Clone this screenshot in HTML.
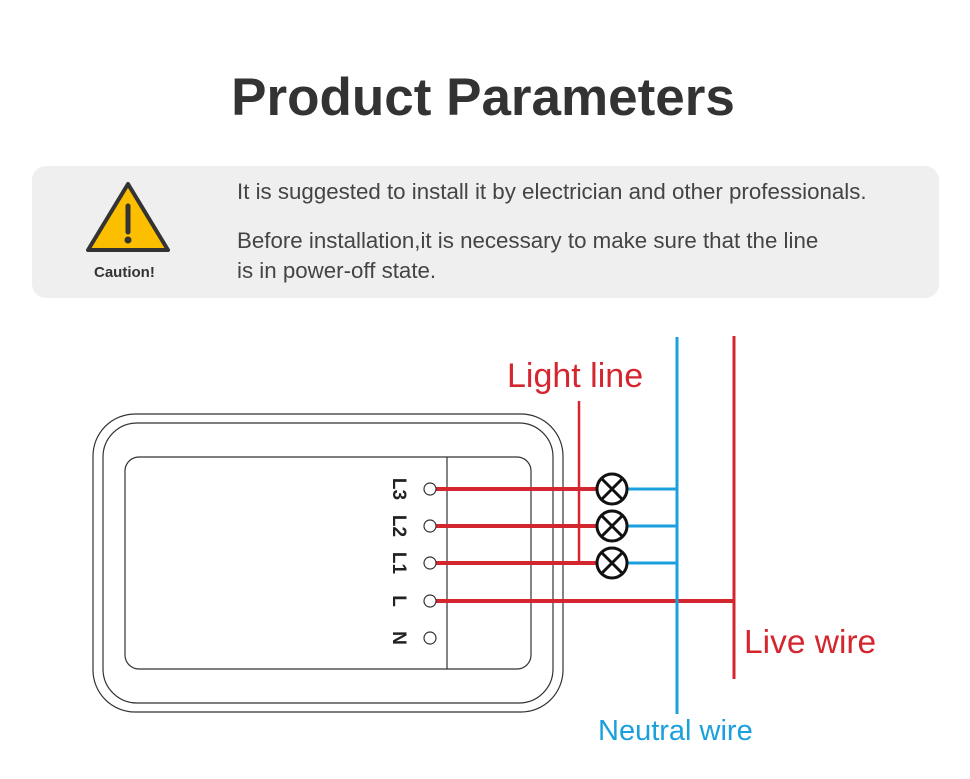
<!DOCTYPE html>
<html><head><meta charset="utf-8"><style>
body{margin:0;background:#fff;width:970px;height:779px;overflow:hidden;position:relative;font-family:"Liberation Sans",sans-serif}
.t{position:absolute;white-space:nowrap}
</style></head><body>
<div class="t" style="left:0;width:966px;text-align:center;top:67px;font-size:53px;font-weight:bold;color:#333">Product Parameters</div>
<div style="position:absolute;left:32px;top:166px;width:907px;height:132px;background:#efefef;border-radius:14px"></div>
<svg style="position:absolute;left:0;top:0" width="970" height="779">
<path d="M128,184 L168,250 L88,250 Z" fill="#fbbf00" stroke="#333" stroke-width="4" stroke-linejoin="round"/>
<line x1="128" y1="206" x2="128" y2="232" stroke="#333" stroke-width="5" stroke-linecap="round"/>
<circle cx="128" cy="240" r="3.5" fill="#333"/>
<g fill="none" stroke="#333" stroke-width="1.2">
<rect x="93" y="414" width="470" height="298" rx="42"/>
<rect x="103" y="423" width="450" height="280" rx="34"/>
<rect x="125" y="457" width="406" height="212" rx="14"/>
<line x1="447" y1="457" x2="447" y2="669"/>
</g>
<g stroke="#d4262e" stroke-width="4">
<line x1="430" y1="489" x2="598" y2="489"/>
<line x1="430" y1="526" x2="598" y2="526"/>
<line x1="430" y1="563" x2="598" y2="563"/>
<line x1="430" y1="601" x2="735" y2="601"/>
</g>
<line x1="579" y1="401" x2="579" y2="564" stroke="#d4262e" stroke-width="2.5"/>
<line x1="734" y1="336" x2="734" y2="679" stroke="#d4262e" stroke-width="3"/>
<g stroke="#1aa0dc" stroke-width="3">
<line x1="677" y1="337" x2="677" y2="714"/>
<line x1="627" y1="489" x2="677" y2="489"/>
<line x1="627" y1="526" x2="677" y2="526"/>
<line x1="627" y1="563" x2="677" y2="563"/>
</g>
<g fill="#fff" stroke="#111" stroke-width="3">
<circle cx="612" cy="489" r="15"/><circle cx="612" cy="526" r="15"/><circle cx="612" cy="563" r="15"/>
<path d="M601,478 L623,500 M623,478 L601,500 M601,515 L623,537 M623,515 L601,537 M601,552 L623,574 M623,552 L601,574" fill="none"/>
</g>
<g fill="#fff" stroke="#333" stroke-width="1.2">
<circle cx="430" cy="489" r="6"/><circle cx="430" cy="526" r="6"/><circle cx="430" cy="563" r="6"/><circle cx="430" cy="601" r="6"/><circle cx="430" cy="638" r="6"/>
</g>
<g font-family="Liberation Sans,sans-serif" font-weight="bold" font-size="19" fill="#222" text-anchor="middle">
<text transform="translate(400,489) rotate(90)" dy="7">L3</text>
<text transform="translate(400,526) rotate(90)" dy="7">L2</text>
<text transform="translate(400,563) rotate(90)" dy="7">L1</text>
<text transform="translate(400,601) rotate(90)" dy="7">L</text>
<text transform="translate(400,638) rotate(90)" dy="7">N</text>
</g>
</svg>
<div class="t" style="left:94px;top:264px;font-size:15px;font-weight:bold;color:#333">Caution!</div>
<div class="t" style="left:237px;top:179px;font-size:22.3px;color:#444">It is suggested to install it by electrician and other professionals.</div>
<div class="t" style="left:237px;top:226px;font-size:22.3px;color:#444;line-height:30px">Before installation,it is necessary to make sure that the line<br>is in power-off state.</div>
<div class="t" style="left:507px;top:357px;font-size:34px;color:#d4262e">Light line</div>
<div class="t" style="left:744px;top:624px;font-size:33.5px;color:#d4262e">Live wire</div>
<div class="t" style="left:598px;top:715px;font-size:29px;color:#1aa0dc">Neutral wire</div>
</body></html>
